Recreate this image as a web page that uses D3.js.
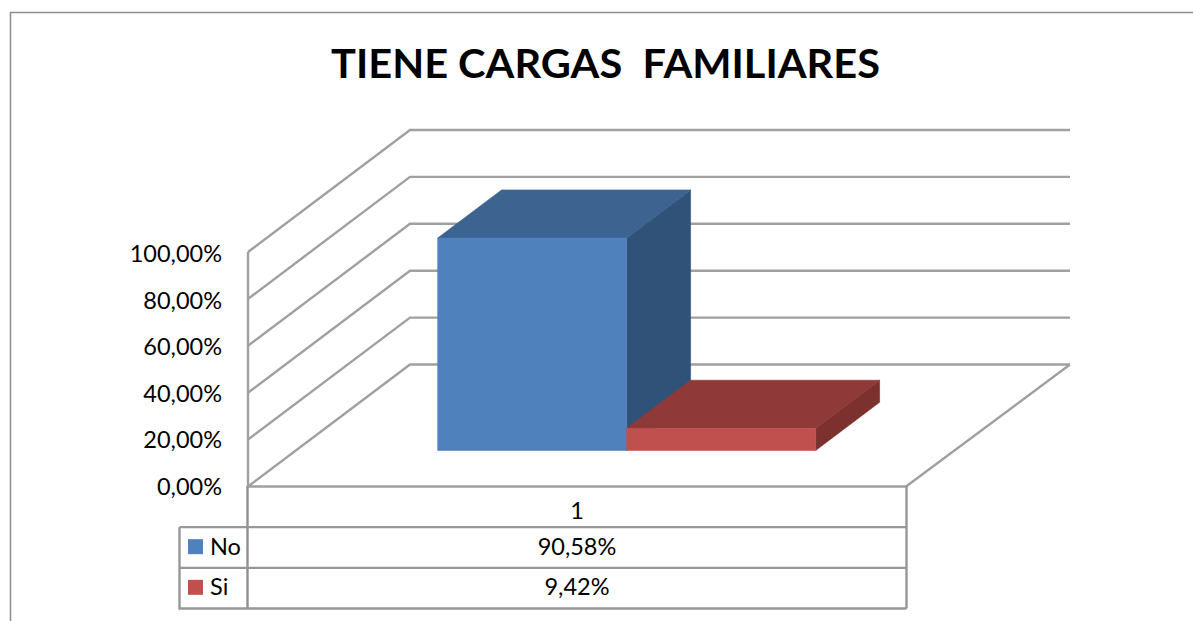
<!DOCTYPE html>
<html><head><meta charset="utf-8">
<style>html,body{margin:0;padding:0;background:#fff}svg{display:block}text{font-family:Lato,"Open Sans",sans-serif;fill:#000}</style>
<script src="https://cdn.jsdelivr.net/npm/d3@7"></script>
</head><body><svg id="c" width="1193" height="621"></svg>
<script>
const titleText = "TIENE CARGAS\u00A0\u00A0FAMILIARES";
const seriesNames = ["No","Si"];
const seriesValues = [90.58,9.42];
const seriesLabels = ["90,58%","9,42%"];
const categories = ["1"];
const yTicks = [0,20,40,60,80,100];
const seriesFill = ["#4f81bd","#c0504d"];
const seriesTop = ["#3d6390","#8f3a38"];
const seriesSide = ["#315278","#7c312f"];

const svg = d3.select("#c");
const W=1193;
const x = d3.scaleLinear().domain([0,1]).range([248,906]);
const y = d3.scaleLinear().domain([0,100]).range([486.5,252]);
const yLabel = d3.scaleLinear().domain([0,100]).range([485.8,253.5]);
const depthX = d3.scaleLinear().domain([0,1]).range([0,162]);
const depthY = d3.scaleLinear().domain([0,1]).range([0,-122]);
const band = d3.scaleBand().domain(seriesNames).range([0.2155,0.79]).padding(0);
const zFront=0.2955, zBack=0.69;
const P=(fx,v,z)=>[x(fx)+depthX(z), y(v)+depthY(z)];
const path=pts=>"M"+pts.map(p=>p.join(",")).join("L")+"Z";
const line=(pts,col,w)=>svg.append("path").attr("d","M"+pts.map(p=>p.join(",")).join("L")).attr("fill","none").attr("stroke",col).attr("stroke-width",w).attr("stroke-linejoin","miter");
const grid="#a0a0a0", tbl="#979797";

line([[10.5,621],[10.5,12.5],[W,12.5]],"#8f8f8f",1.6);

svg.append("text").attr("x",605.5).attr("y",77.5).attr("text-anchor","middle").attr("font-size",40).attr("font-weight",700).attr("textLength",549).attr("lengthAdjust","spacingAndGlyphs").text(titleText);

yTicks.forEach(t=>{
  line([P(0,t,0),P(0,t,1),[1070,P(0,t,1)[1]]],grid,2.4);
});
line([P(0,0,0),P(0,100,0)],grid,2.4);
line([P(0,0,0),P(1,0,0),[1070,P(0,0,1)[1]]],grid,2.4);

const ax=svg.append("g").attr("transform","translate(236,0)").call(d3.axisLeft(yLabel).tickValues(yTicks).tickSize(0).tickPadding(0).tickFormat(d=>d3.format(".2f")(d).replace(".",",")+"%"));
ax.select(".domain").remove();
ax.selectAll("text").attr("x",-14).attr("dy",".36em").attr("font-size",23.5).style("font-family","Lato");

seriesNames.forEach((s,i)=>{
  const a=band(s), b=a+band.bandwidth(), v=seriesValues[i];
  svg.append("path").attr("d",path([P(b,0,zFront),P(b,0,zBack),P(b,v,zBack),P(b,v,zFront)])).attr("fill",seriesSide[i]).attr("stroke",seriesSide[i]).attr("stroke-width",.6);
  svg.append("path").attr("d",path([P(a,v,zFront),P(a,v,zBack),P(b,v,zBack),P(b,v,zFront)])).attr("fill",seriesTop[i]).attr("stroke",seriesTop[i]).attr("stroke-width",.6);
  svg.append("path").attr("d",path([P(a,0,zFront),P(b,0,zFront),P(b,v,zFront),P(a,v,zFront)])).attr("fill",seriesFill[i]).attr("stroke",seriesFill[i]).attr("stroke-width",.6);
});

const rows=d3.scaleBand().domain(["cat",...seriesNames]).range([486.5,608.5]);
const L=179.5,M=247.5,R=906.5;
line([[M,486],[M,608.5]],"#8f8f8f",2.4);
line([[R,486],[R,608.5]],tbl,2.4);
seriesNames.forEach((s,i)=>{
  const top=rows(s);
  line([[L,top],[R,top]],tbl,2.4);
  svg.append("rect").attr("x",188).attr("y",top+12).attr("width",15).attr("height",15).attr("fill",seriesFill[i]);
  svg.append("text").attr("x",210).attr("y",top+27.5).attr("font-size",23.5).text(s);
  svg.append("text").attr("x",577).attr("y",top+27.5).attr("text-anchor","middle").attr("font-size",23.5).text(seriesLabels[i]);
});
line([[L,rows(seriesNames[0])],[L,608.5],[R,608.5]],tbl,2.4);
svg.append("text").attr("x",577).attr("y",518.5).attr("text-anchor","middle").attr("font-size",23.5).text(categories[0]);
</script></body></html>
